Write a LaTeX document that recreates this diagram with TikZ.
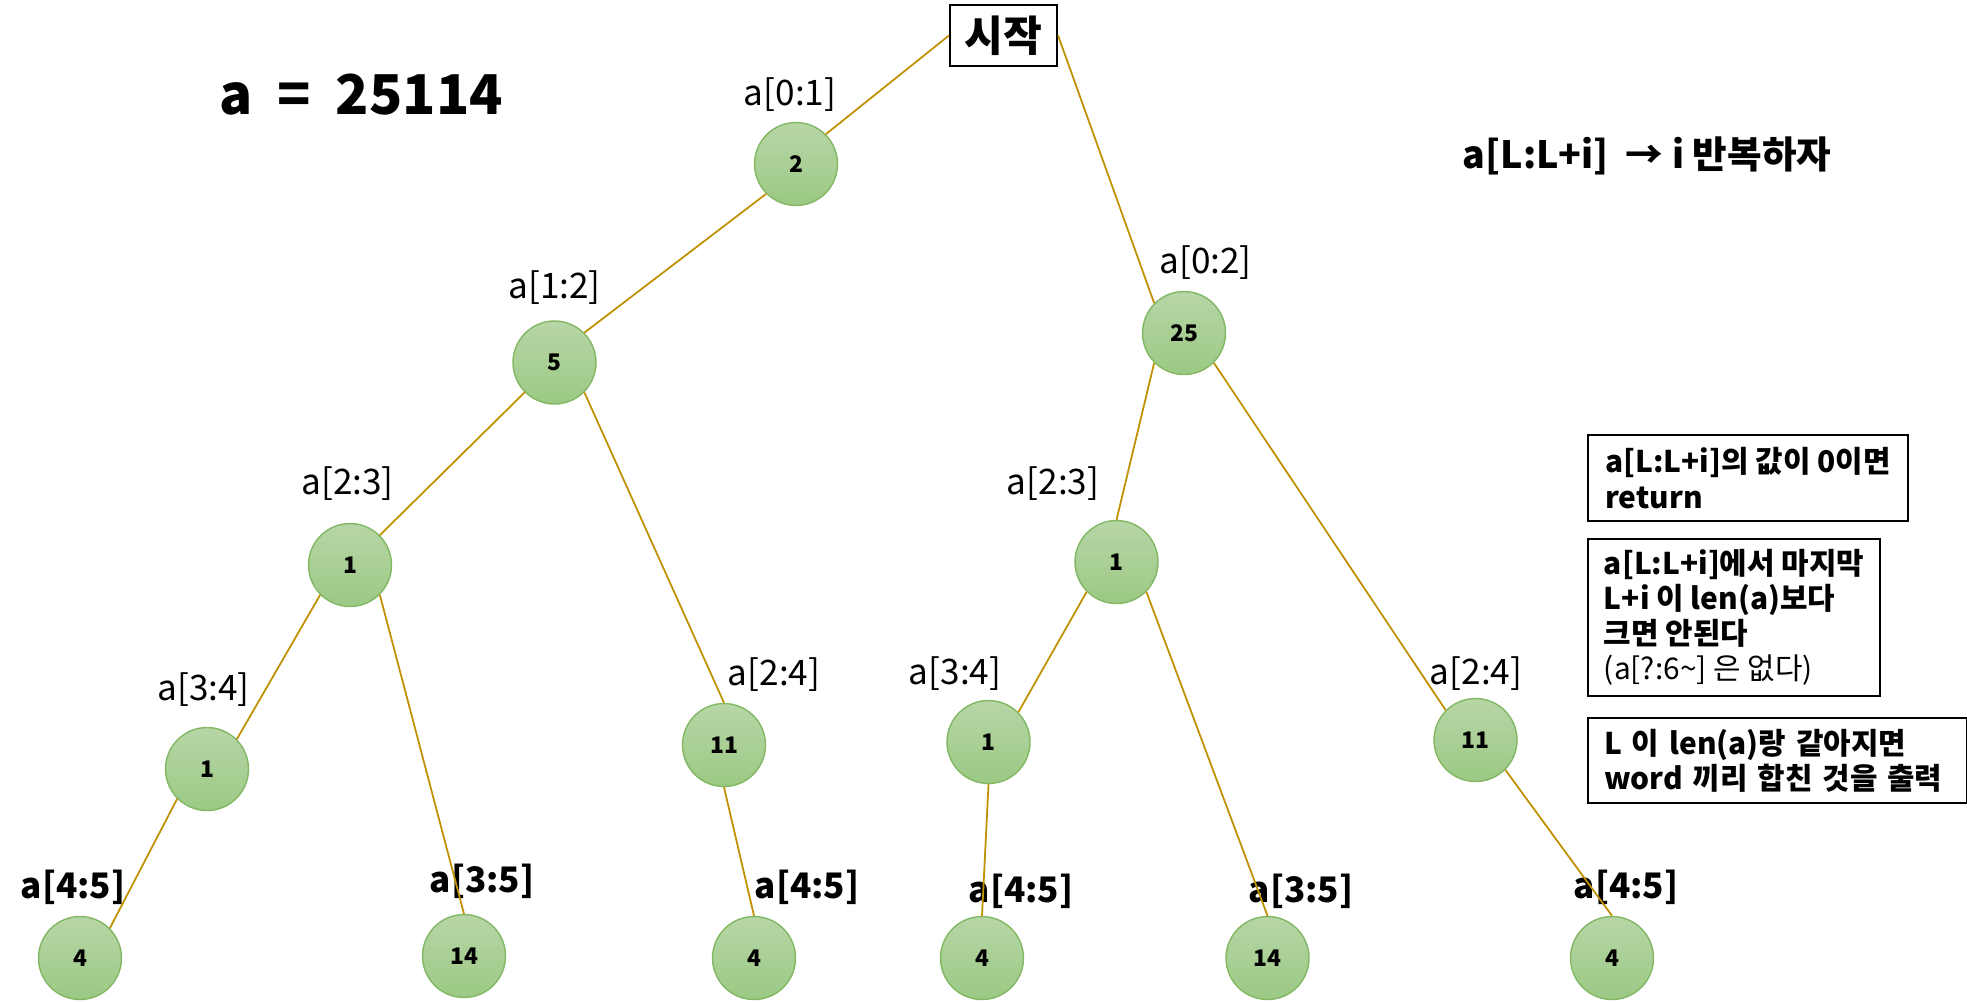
\documentclass[tikz,border=0pt]{standalone}
\usepackage{fontspec}
\setmainfont{Noto Sans CJK KR}
\usepackage{tikz}
\definecolor{edgegold}{RGB}{191,144,0}
\definecolor{leaftop}{RGB}{183,214,166}
\definecolor{leafbot}{RGB}{155,201,132}
\definecolor{leafline}{RGB}{130,184,100}

\begin{document}
\begin{tikzpicture}[scale= 1,
  edge/.style={draw=edgegold, line width=0.5pt},
  val/.style={circle, minimum size=0.83cm, inner sep=0pt, draw=leafline, line width=0.4pt,
    top color=leaftop, bottom color=leafbot, font=\bfseries\fontsize{6.5}{8}\selectfont},
  lbl/.style={anchor=base, inner sep=0pt, font=\fontsize{10}{12}\selectfont},
  blbl/.style={anchor=base, inner sep=0pt, font=\bfseries\fontsize{10}{12}\selectfont},
  note/.style={draw, line width=0.6pt, anchor=north west, align=left, inner sep=0pt,
    font=\bfseries\fontsize{8.5}{10}\selectfont}]
  \useasboundingbox (0,0) rectangle (19.67,-10.01);

  \node[blbl, font=\bfseries\fontsize{15.6}{18}\selectfont] (title) at (3.61,-1.14) {a~~=~~25114};
  \node[blbl, anchor=base west, font=\bfseries\fontsize{10.7}{13}\selectfont] (rule) at (14.62,-1.68) {a[L:L+i]~~→~i 반복하자};
  \node[draw, line width=0.6pt, minimum width=1.07cm, minimum height=0.61cm, inner sep=0pt,
    font=\bfseries\fontsize{12}{14}\selectfont] (start) at (10.035,-0.355) {시작};

  \node[val] (n01) at (7.96,-1.64) {2};
  \node[val] (n12) at (5.545,-3.625) {5};
  \node[val] (n02) at (11.84,-3.33) {25};
  \node[val] (n23l) at (3.50,-5.65) {1};
  \node[val] (n23r) at (11.165,-5.62) {1};
  \node[val] (n34l) at (2.07,-7.69) {1};
  \node[val] (n24l) at (7.24,-7.45) {11};
  \node[val] (n34r) at (9.885,-7.42) {1};
  \node[val] (n24r) at (14.755,-7.40) {11};
  \node[val] (n45a) at (0.80,-9.58) {4};
  \node[val] (n35l) at (4.64,-9.56) {14};
  \node[val] (n45b) at (7.54,-9.58) {4};
  \node[val] (n45c) at (9.82,-9.58) {4};
  \node[val] (n35r) at (12.675,-9.58) {14};
  \node[val] (n45d) at (16.12,-9.58) {4};

  \node[lbl] (t01) at (7.90,-1.05) {a[0:1]};
  \node[lbl] (t12) at (5.545,-2.98) {a[1:2]};
  \node[lbl] (t02) at (12.055,-2.73) {a[0:2]};
  \node[lbl] (t23l) at (3.475,-4.94) {a[2:3]};
  \node[lbl] (t23r) at (10.53,-4.94) {a[2:3]};
  \node[lbl] (t34l) at (2.035,-7.00) {a[3:4]};
  \node[lbl] (t24l) at (7.74,-6.85) {a[2:4]};
  \node[lbl] (t34r) at (9.55,-6.84) {a[3:4]};
  \node[lbl] (t24r) at (14.76,-6.84) {a[2:4]};
  \node[blbl] (t45a) at (0.73,-8.98) {a[4:5]};
  \node[blbl] (t35l) at (4.82,-8.92) {a[3:5]};
  \node[blbl] (t45b) at (8.07,-8.98) {a[4:5]};
  \node[blbl] (t45c) at (10.21,-9.02) {a[4:5]};
  \node[blbl] (t35r) at (13.01,-9.02) {a[3:5]};
  \node[blbl] (t45d) at (16.26,-8.98) {a[4:5]};

  \node[note, minimum width=3.20cm, minimum height=0.86cm] (zero) at (15.87,-4.34)
    {a[L:L+i]의 값이 0이면\\return};
  \node[note, minimum width=2.92cm, minimum height=1.57cm] (bound) at (15.87,-5.38)
    {a[L:L+i]에서 마지막\\L+i 이 len(a)보다\\크면 안된다\\{\mdseries (a[?:6\textasciitilde] 은 없다)}};
  \node[note, inner xsep=0.16cm, text width=3.47cm, minimum height=0.85cm] (done) at (15.87,-7.17)
    {L 이 len(a)랑 같아지면\\word 끼리 합친 것을 출력};

  \draw[edge] (start.west) -- (n01.north east);
  \draw[edge] (start.east) -- (n02.north west);
  \draw[edge] (n01.south west) -- (n12.north east);
  \draw[edge] (n12.south west) -- (n23l.north east);
  \draw[edge] (n12.south east) -- (n24l.north);
  \draw[edge] (n23l.south west) -- (n34l.north east);
  \draw[edge] (n23l.south east) -- (n35l.north);
  \draw[edge] (n34l.south west) -- (n45a.north east);
  \draw[edge] (n24l.south) -- (n45b.north);
  \draw[edge] (n02.south west) -- (n23r.north);
  \draw[edge] (n02.south east) -- (n24r.north west);
  \draw[edge] (n23r.south west) -- (n34r.north east);
  \draw[edge] (n23r.south east) -- (n35r.north);
  \draw[edge] (n34r.south) -- (n45c.north);
  \draw[edge] (n24r.south east) -- (n45d.north);
\end{tikzpicture}
\end{document}
